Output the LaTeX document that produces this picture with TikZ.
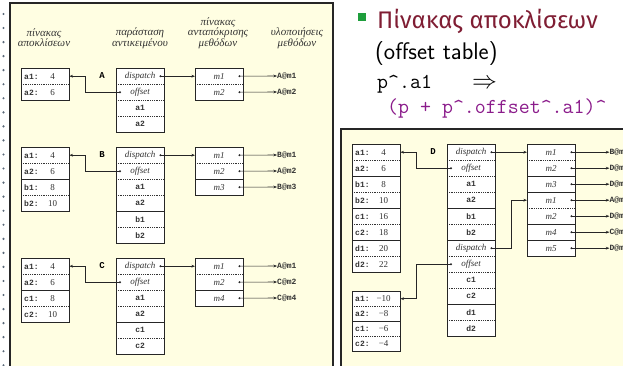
\documentclass[tikz,border=0pt]{standalone}
\usepackage{fontspec}
\usetikzlibrary{arrows.meta,calc}
\newfontfamily\dserif{Liberation Serif}
\newfontfamily\dmono{Liberation Mono}
\newfontfamily\grsans{Fira Sans}
\definecolor{panelbg}{HTML}{FFFEE2}
\definecolor{framecol}{HTML}{262626}
\definecolor{alertred}{HTML}{7F1D33}
\definecolor{codepurple}{HTML}{8B1C8B}
\definecolor{bulletgreen}{HTML}{1E9E3C}
\definecolor{railcol}{HTML}{5A6878}
\definecolor{inkcol}{HTML}{333333}

% bold upright typewriter used for field names and method bodies
\newcommand\ttb{\dmono\bfseries\upshape\fontsize{8}{9}\selectfont}
% offset-table row: field name on the left, offset value centred
\newcommand\oc[2]{\hbox to 48pt{\hskip3pt\rlap{\ttb #1:}\hskip28.5pt\hbox to 0pt{\hss\dserif\upshape #2\hss}\hfil}}
% object field in typewriter
\newcommand\ob[1]{{\ttb #1}}

\tikzset{
  cell/.style={inner sep=0pt, minimum width=48pt, anchor=north west, fill=white,
    font=\dserif\itshape\fontsize{9}{9}\selectfont, text=inkcol},
  dotsep/.style={draw=black!80, line width=0.6pt, dash pattern=on 0.7pt off 1.1pt},
  solsep/.style={draw=framecol, line width=0.8pt},
  nosep/.style={draw=none},
  frame/.style={draw=framecol, line width=0.8pt},
  ptr/.style={draw=framecol, line width=0.6pt, -{Stealth[length=3.6pt,width=2.8pt]}},
  impl/.style={anchor=west, inner sep=0pt, font=\ttb, text=inkcol},
  head/.style={align=center, inner sep=0pt, font=\dserif\itshape\fontsize{11}{10}\selectfont, text=inkcol},
  objname/.style={inner sep=0pt, font=\dmono\bfseries\fontsize{9}{9}\selectfont},
  panel/.style={fill=panelbg, draw=framecol, line width=1.2pt},
}

% a boxed column of rows: prefix, x, y, row height, first key, last key, rows
\newcommand\tcol[7]{%
  \foreach \k/\txt/\sep [count=\i from 0] in {#7} {
    \node[cell, minimum height=#4] (#1-\k) at (#2, {#3+\i*#4}) {\txt};
    \draw[\sep] (#1-\k.north west) -- (#1-\k.north east);
  }
  \draw[frame] (#1-#5.north west) rectangle (#1-#6.south east);
}
% pointer with a dot at its origin
\newcommand\link[2]{\draw[ptr] (#1) -- (#2); \fill[framecol] (#1) circle (1.1);}

\begin{document}
\begin{tikzpicture}[x=1pt, y=-1pt]
\useasboundingbox (0,0) rectangle (623,366);
\clip (0,0) rectangle (623,366);

% dotted rail at the left edge
\foreach \j in {0,...,25} \fill[railcol] (3.5, {14+14.05*\j}) circle (1.2);

% ---------------- left panel: single inheritance ----------------
\draw[panel] (10,3) rectangle (333,380);
\draw[framecol, line width=2pt] (332.5,3) -- (332.5,380);

\node[head] (h1) at (44,38) {πίνακας\\αποκλίσεων};
\node[head] (h2) at (140,38) {παράσταση\\αντικειμένου};
\node[head] (h3) at (218,33) {πίνακας\\ανταπόκρισης\\μεθόδων};
\node[head] (h4) at (297,38) {υλοποιήσεις\\μεθόδων};

% class A
\tcol{offA}{21}{68}{16}{a1}{a2}{a1/{\oc{a1}{4}}/nosep, a2/{\oc{a2}{6}}/dotsep}
\tcol{objA}{116}{68}{16}{disp}{a2}{disp/dispatch/nosep, off/offset/dotsep, a1/{\ob{a1}}/dotsep, a2/{\ob{a2}}/dotsep}
\tcol{mtA}{195}{68}{16}{m1}{m2}{m1/m1/nosep, m2/m2/dotsep}
\node[objname] (nA) at (102,76) {A};
\node[impl] (iA1) at (277,76) {A@m1};
\node[impl] (iA2) at (277,92) {A@m2};
\coordinate (vA) at (85,0);
\coordinate (pA) at ($(objA-off.west)+(4,0)$);
\draw[ptr] (pA) -- (vA |- pA) |- (offA-a1.east); \fill[framecol] (pA) circle (1.1);
\link{$(objA-disp.east)+(-4,0)$}{mtA-m1.west}
\link{$(mtA-m1.east)+(-4,0)$}{iA1.west}
\link{$(mtA-m2.east)+(-4,0)$}{iA2.west}

% class B
\tcol{offB}{21}{147}{16}{a1}{b2}{a1/{\oc{a1}{4}}/nosep, a2/{\oc{a2}{6}}/dotsep, b1/{\oc{b1}{8}}/solsep, b2/{\oc{b2}{10}}/dotsep}
\tcol{objB}{116}{147}{16}{disp}{b2}{disp/dispatch/nosep, off/offset/dotsep, a1/{\ob{a1}}/dotsep, a2/{\ob{a2}}/dotsep, b1/{\ob{b1}}/solsep, b2/{\ob{b2}}/dotsep}
\tcol{mtB}{195}{147}{16}{m1}{m3}{m1/m1/nosep, m2/m2/dotsep, m3/m3/solsep}
\node[objname] (nB) at (102,155) {B};
\node[impl] (iB1) at (277,155) {B@m1};
\node[impl] (iB2) at (277,171) {A@m2};
\node[impl] (iB3) at (277,187) {B@m3};
\coordinate (pB) at ($(objB-off.west)+(4,0)$);
\draw[ptr] (pB) -- (vA |- pB) |- (offB-a1.east); \fill[framecol] (pB) circle (1.1);
\link{$(objB-disp.east)+(-4,0)$}{mtB-m1.west}
\link{$(mtB-m1.east)+(-4,0)$}{iB1.west}
\link{$(mtB-m2.east)+(-4,0)$}{iB2.west}
\link{$(mtB-m3.east)+(-4,0)$}{iB3.west}

% class C
\tcol{offC}{21}{258}{16}{a1}{c2}{a1/{\oc{a1}{4}}/nosep, a2/{\oc{a2}{6}}/dotsep, c1/{\oc{c1}{8}}/solsep, c2/{\oc{c2}{10}}/dotsep}
\tcol{objC}{116}{258}{16}{disp}{c2}{disp/dispatch/nosep, off/offset/dotsep, a1/{\ob{a1}}/dotsep, a2/{\ob{a2}}/dotsep, c1/{\ob{c1}}/solsep, c2/{\ob{c2}}/dotsep}
\tcol{mtC}{195}{258}{16}{m1}{m4}{m1/m1/nosep, m2/m2/dotsep, m4/m4/solsep}
\node[objname] (nC) at (102,266) {C};
\node[impl] (iC1) at (277,266) {A@m1};
\node[impl] (iC2) at (277,282) {C@m2};
\node[impl] (iC3) at (277,298) {C@m4};
\coordinate (pC) at ($(objC-off.west)+(4,0)$);
\draw[ptr] (pC) -- (vA |- pC) |- (offC-a1.east); \fill[framecol] (pC) circle (1.1);
\link{$(objC-disp.east)+(-4,0)$}{mtC-m1.west}
\link{$(mtC-m1.east)+(-4,0)$}{iC1.west}
\link{$(mtC-m2.east)+(-4,0)$}{iC2.west}
\link{$(mtC-m4.east)+(-4,0)$}{iC3.west}

% ---------------- slide text ----------------
\fill[bulletgreen] (358,13.5) rectangle (365.5,21);
\node[anchor=base west, inner sep=0pt, text=alertred, font=\grsans\fontsize{24}{28}\selectfont] (t1) at (377,29) {Πίνακας αποκλίσεων};
\node[anchor=base west, inner sep=0pt, font=\sffamily\fontsize{24}{28}\selectfont] (t2) at (375,60) {(offset table)};
\node[anchor=base west, inner sep=0pt, font=\ttfamily\fontsize{21.3}{24}\selectfont] (t3) at (377,89) {p\textasciicircum.a1};
\node[anchor=base west, inner sep=0pt, font=\fontsize{24}{28}\selectfont] (t4) at (472,89) {$\Rightarrow$};
\node[anchor=base west, inner sep=0pt, text=codepurple, font=\ttfamily\fontsize{21.3}{24}\selectfont] (t5) at (387,114) {(p + p\textasciicircum.offset\textasciicircum.a1)\textasciicircum};

% ---------------- right panel: multiple inheritance ----------------
\draw[panel] (341,129) rectangle (640,380);

\tcol{offD}{352}{144}{16}{a1}{d2}{a1/{\oc{a1}{4}}/nosep, a2/{\oc{a2}{6}}/dotsep, b1/{\oc{b1}{8}}/solsep, b2/{\oc{b2}{10}}/dotsep, c1/{\oc{c1}{16}}/solsep, c2/{\oc{c2}{18}}/dotsep, d1/{\oc{d1}{20}}/solsep, d2/{\oc{d2}{22}}/dotsep}
\tcol{offE}{352}{291}{15}{a1}{c2}{a1/{\oc{a1}{−10}}/nosep, a2/{\oc{a2}{−8}}/dotsep, c1/{\oc{c1}{−6}}/solsep, c2/{\oc{c2}{−4}}/dotsep}
\tcol{objD}{447}{144}{16}{disp}{d2}{disp/dispatch/nosep, off/offset/dotsep, a1/{\ob{a1}}/dotsep, a2/{\ob{a2}}/dotsep, b1/{\ob{b1}}/solsep, b2/{\ob{b2}}/dotsep, disp2/dispatch/solsep, off2/offset/dotsep, c1/{\ob{c1}}/dotsep, c2/{\ob{c2}}/dotsep, d1/{\ob{d1}}/solsep, d2/{\ob{d2}}/dotsep}
\tcol{mtD}{527}{144}{16}{m1}{m5}{m1/m1/nosep, m2/m2/dotsep, m3/m3/solsep, m1b/m1/solsep, m2b/m2/dotsep, m4/m4/solsep, m5/m5/solsep}
\node[objname] (nD) at (433,152) {D};

\coordinate (vD) at (416,0);
\coordinate (pD) at ($(objD-off.west)+(4,0)$);
\draw[ptr] (pD) -- (vD |- pD) |- (offD-a1.east); \fill[framecol] (pD) circle (1.1);
\coordinate (pE) at ($(objD-off2.west)+(4,0)$);
\draw[ptr] (pE) -- (vD |- pE) |- (offE-a1.east); \fill[framecol] (pE) circle (1.1);

\link{$(objD-disp.east)+(-4,0)$}{mtD-m1.west}
\coordinate (qD) at ($(objD-disp2.east)+(-4,0)$);
\coordinate (vQ) at (511,0);
\draw[ptr] (qD) -- (vQ |- qD) |- (mtD-m1b.west); \fill[framecol] (qD) circle (1.1);

\foreach \k/\body in {m1/B@m1, m2/D@m2, m3/D@m3, m1b/A@m1, m2b/D@m2, m4/C@m4, m5/D@m5} {
  \node[impl] (iD-\k) at ($(mtD-\k.east)+(34,0)$) {\body};
  \link{$(mtD-\k.east)+(-4,0)$}{iD-\k.west}
}
\end{tikzpicture}
\end{document}
